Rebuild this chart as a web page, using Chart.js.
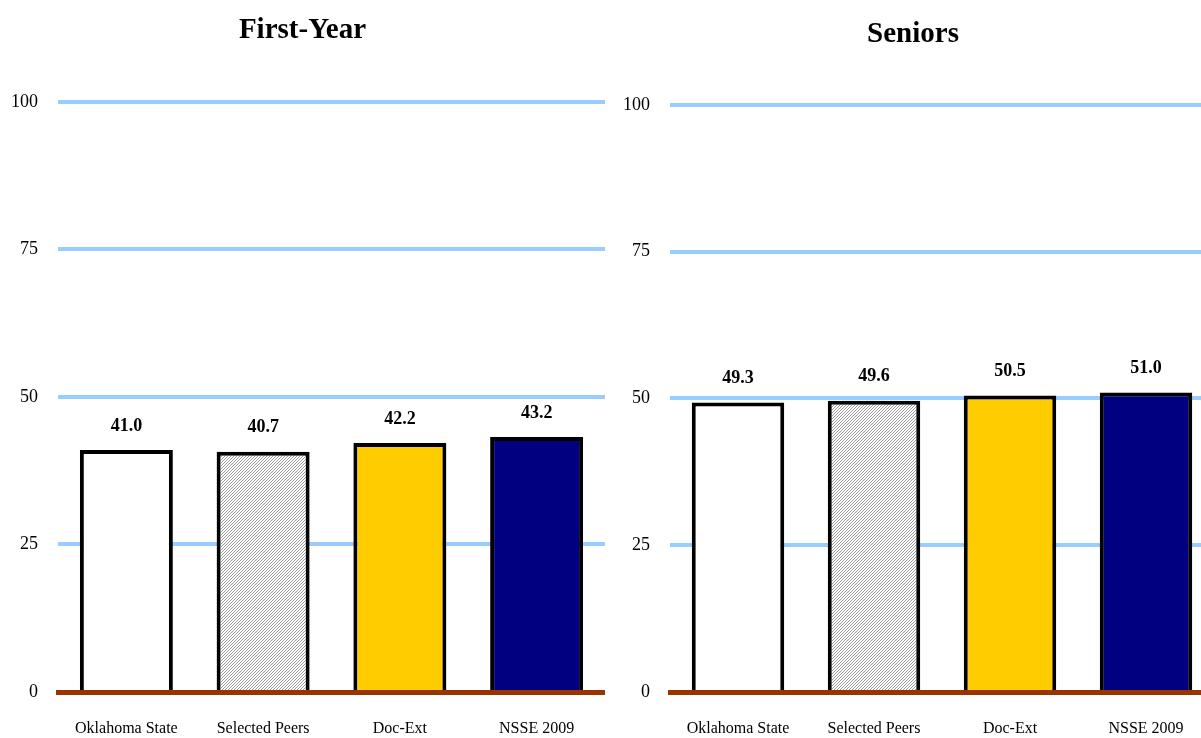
<!DOCTYPE html>
<html>
<head>
<meta charset="utf-8">
<script src="https://cdn.jsdelivr.net/npm/chart.js@4/dist/chart.umd.min.js"></script>
<style>
  html, body { margin: 0; padding: 0; background: #fff; overflow: hidden; width: 1201px; height: 738px; }
  canvas { position: absolute; top: 0; }
  #left { left: 0; }
  #right { left: 612px; }
</style>
</head>
<body>
<canvas id="left" width="605" height="738"></canvas>
<canvas id="right" width="602" height="738"></canvas>
<script>
const categories = ["Oklahoma State", "Selected Peers", "Doc-Ext", "NSSE 2009"];
const firstYear = [41.0, 40.7, 42.2, 43.2];
const seniors = [49.3, 49.6, 50.5, 51.0];
const yTicks = [0, 25, 50, 75, 100];

const serif = "'Liberation Serif', 'Times New Roman', serif";

// thin grey diagonal lines like the "Selected Peers" fill
function hatch() {
  const c = document.createElement("canvas");
  c.width = 3;
  c.height = 3;
  const g = c.getContext("2d");
  g.fillStyle = "#fff";
  g.fillRect(0, 0, 3, 3);
  g.fillStyle = "#9a9a9a";
  g.fillRect(2, 0, 1, 1);
  g.fillRect(1, 1, 1, 1);
  g.fillRect(0, 2, 1, 1);
  return g.createPattern(c, "repeat");
}

const valueLabels = {
  id: "valueLabels",
  afterDatasetsDraw(chart) {
    const ctx = chart.ctx;
    const meta = chart.getDatasetMeta(0);
    ctx.save();
    ctx.font = "bold 18px " + serif;
    ctx.fillStyle = "#000";
    ctx.textAlign = "center";
    ctx.textBaseline = "middle";
    meta.data.forEach((bar, i) => {
      ctx.fillText(chart.data.datasets[0].data[i].toFixed(1), bar.x, bar.y - 24);
    });
    ctx.restore();
  }
};

function makeChart(id, title, values, titleTop, titleBottom) {
  const ctx = document.getElementById(id).getContext("2d");
  return new Chart(ctx, {
    type: "bar",
    data: {
      labels: categories,
      datasets: [{
        data: values,
        backgroundColor: ["#ffffff", hatch(), "#ffcc00", "#000080"],
        borderColor: "#000",
        borderWidth: 4,
        barPercentage: 0.68,
        categoryPercentage: 1
      }]
    },
    options: {
      responsive: false,
      animation: false,
      devicePixelRatio: 1,
      layout: { padding: 0 },
      plugins: {
        legend: { display: false },
        tooltip: { enabled: false },
        title: {
          display: true,
          text: title,
          color: "#000",
          font: { family: serif, size: 29, weight: "bold" },
          padding: { top: titleTop, bottom: titleBottom }
        }
      },
      scales: {
        x: {
          z: 1,
          grid: { display: false },
          border: { display: true, color: "#993300", width: 5 },
          ticks: { color: "#000", font: { family: serif, size: 16 }, padding: 19 },
          afterFit: (s) => { s.height = 46; }
        },
        y: {
          min: 0,
          max: 100,
          afterBuildTicks: (s) => { s.ticks = yTicks.map(v => ({ value: v })); },
          grid: {
            color: (c) => c.tick && c.tick.value === 0 ? "rgba(0,0,0,0)" : "#99ccff",
            lineWidth: 4,
            drawTicks: false
          },
          border: { display: false },
          ticks: { color: "#000", font: { family: serif, size: 18 }, padding: 20 },
          afterFit: (s) => { s.width = 58; }
        }
      }
    },
    plugins: [valueLabels]
  });
}

makeChart("left", "First-Year", firstYear, 13, 54);
makeChart("right", "Seniors", seniors, 17, 53);
</script>
</body>
</html>
